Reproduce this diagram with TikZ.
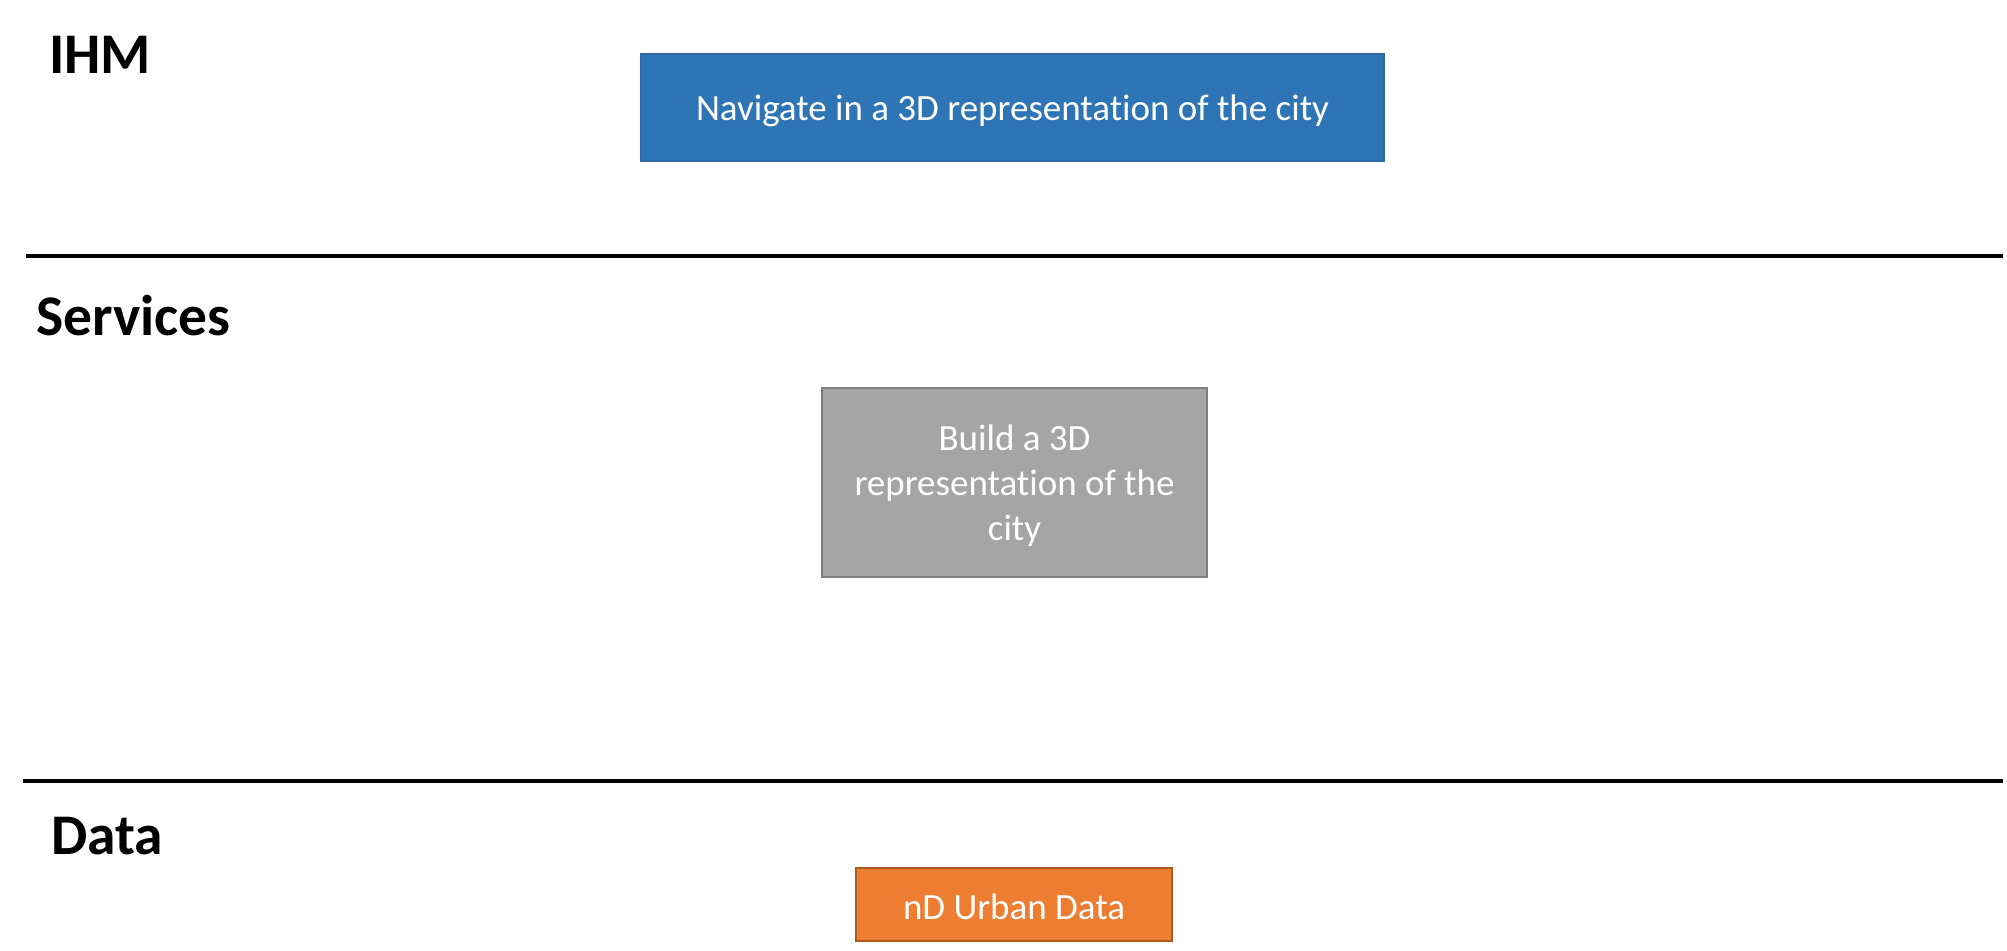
\documentclass[tikz,border=0pt]{standalone}
\usepackage{fontspec}
\setmainfont{Carlito}[Ligatures={NoCommon,NoRare,NoContextual}]
\definecolor{ihmblue}{HTML}{2E75B6}
\definecolor{ihmblueb}{HTML}{2E6AA5}
\definecolor{svcgray}{HTML}{A5A5A5}
\definecolor{svcgrayb}{HTML}{7F7F7F}
\definecolor{dataorange}{HTML}{ED7D31}
\definecolor{dataoranged}{HTML}{AE5A21}
\tikzset{
  layertitle/.style={anchor=base west, inner sep=0pt, font=\fontsize{57.5}{68}\selectfont\bfseries},
  boxtext/.style={font=\fontsize{37}{45}\selectfont, text=white, align=center, inner sep=0pt},
  sepline/.style={line width=4pt, black},
}
\begin{document}
\begin{tikzpicture}[x=1pt,y=-1pt]
\useasboundingbox (0,0) rectangle (2007,950);
% layer titles
\node[layertitle] (ihm) at (49,74) {IHM};
\node[layertitle] (services) at (36,335) {Services};
\node[layertitle] (data) at (51,854) {Data};
% separators
\coordinate (l1a) at (26,256);
\coordinate (l1b) at (2003,256);
\coordinate (l2a) at (23,781);
\coordinate (l2b) at (2003,781);
\draw[sepline] (l1a) -- (l1b);
\draw[sepline] (l2a) -- (l2b);
% boxes
\filldraw[fill=ihmblue, draw=ihmblueb, line width=1.2pt] (641,54) rectangle (1384,161);
\node[boxtext] (nav) at (1012.5,110.5) {Navigate in a 3D representat\kern0pt ion of the city};
\filldraw[fill=svcgray, draw=svcgrayb, line width=1.5pt] (822,388) rectangle (1207,577);
\node[boxtext] (build) at (1014.5,486) {Build a 3D\\representat\kern0pt ion of the\\city};
\filldraw[fill=dataorange, draw=dataoranged, line width=1.5pt] (856,868) rectangle (1172,941);
\node[boxtext] (urban) at (1014,906.5) {nD Urban Data};
\end{tikzpicture}
\end{document}
